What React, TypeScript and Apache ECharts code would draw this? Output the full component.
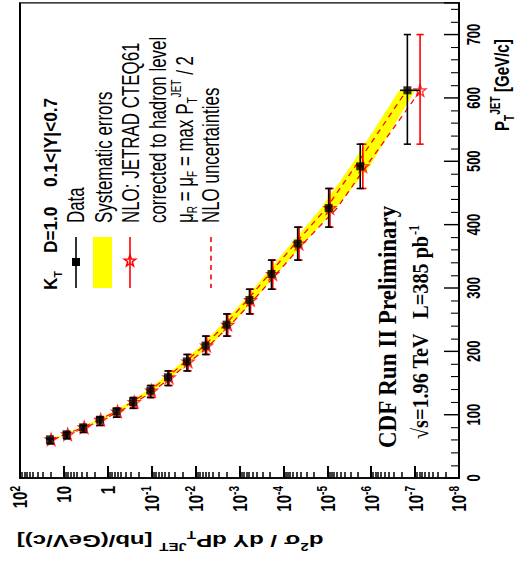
import React, { useEffect, useRef } from 'react';
import * as echarts from 'echarts';

// the reference picture is squeezed vertically; we draw in an unsqueezed frame and scale with CSS
const SQUEEZE = 0.72;
const W = 516;
const H = Math.round(568 / SQUEEZE);

// ---- data ----
const ptData = [61, 69, 80, 92, 105, 120, 138, 159, 184, 209, 242, 281, 322, 370, 426, 492, 612];
const binLo = [54, 62, 72, 83, 96, 110, 127, 146, 169, 195, 224, 259, 298, 344, 396, 457, 527];
const binHi = [62, 72, 83, 96, 110, 127, 146, 169, 195, 224, 259, 298, 344, 396, 457, 527, 700];
const sigmaData = [20.8, 8.7, 3.64, 1.52, 0.635, 0.266, 0.107, 0.0426, 0.0158, 5.93e-3, 1.97e-3, 5.93e-4, 1.87e-4, 4.73e-5, 9.3e-6, 1.78e-6, 1.5e-7];
const statLo = [20.7, 8.66, 3.62, 1.51, 0.63, 0.264, 0.106, 0.0422, 0.0156, 5.85e-3, 1.93e-3, 5.8e-4, 1.8e-4, 4.45e-5, 8.4e-6, 1.5e-6, 7.8e-8];
const statHi = [20.9, 8.74, 3.66, 1.53, 0.64, 0.268, 0.108, 0.043, 0.016, 6.0e-3, 2.01e-3, 6.06e-4, 1.94e-4, 5.0e-5, 1.02e-5, 2.06e-6, 2.2e-7];
const sysHi = [23.5, 9.9, 4.15, 1.75, 0.74, 0.315, 0.128, 0.052, 0.0196, 7.5e-3, 2.55e-3, 7.8e-4, 2.5e-4, 6.6e-5, 1.38e-5, 2.95e-6, 2.3e-7];
const sysLo = [18.3, 7.6, 3.18, 1.32, 0.545, 0.226, 0.09, 0.0355, 0.0129, 4.75e-3, 1.55e-3, 4.6e-4, 1.43e-4, 3.45e-5, 6.4e-6, 1.08e-6, 1.0e-7];
const sigmaNlo = [19.5, 8.2, 3.45, 1.45, 0.6, 0.25, 0.1, 0.04, 0.0148, 5.6e-3, 1.85e-3, 5.6e-4, 1.75e-4, 4.4e-5, 8.7e-6, 1.55e-6, 7.7e-8];
const nloUp = [21.2, 8.9, 3.75, 1.58, 0.655, 0.275, 0.111, 0.0445, 0.0167, 6.35e-3, 2.12e-3, 6.6e-4, 2.1e-4, 5.4e-5, 1.05e-5, 2.3e-6, 1.55e-7];
const nloDn = [18.0, 7.5, 3.15, 1.32, 0.545, 0.226, 0.09, 0.0358, 0.0131, 4.9e-3, 1.6e-3, 4.75e-4, 1.45e-4, 3.55e-5, 6.0e-6, 1.3e-6, 7.5e-8];

// ---- axes ----
const sigmaTicks = [1e-8, 1e-7, 1e-6, 1e-5, 1e-4, 1e-3, 1e-2, 1e-1, 1, 10, 100];
const sigmaTickLabels = ['10^-8', '10^-7', '10^-6', '10^-5', '10^-4', '10^-3', '10^-2', '10^-1', '1', '10', '10^2'];
const ptTickLabels = ['0', '100', '200', '300', '400', '500', '600', '700'];
const ptMinorTicks: number[] = [];
for (let v = 20; v < 750; v += 20) if (v % 100 !== 0) ptMinorTicks.push(v);
const sigmaMinorTicks: number[] = [];
for (let e = -8; e < 2; e++) for (let m = 2; m <= 9; m++) sigmaMinorTicks.push(m * Math.pow(10, e));

const FONT = 'Liberation Sans, Arial, Helvetica, sans-serif';
const SERIF = 'Liberation Serif, Times New Roman, serif';
const RED = '#ff0000';
const YELLOW = '#ffff00';
const STAR = 'path://M0,-10L2.35,-3.24L9.51,-3.09L3.8,1.24L5.88,8.09L0,4L-5.88,8.09L-3.8,1.24L-9.51,-3.09L-2.35,-3.24Z';

const sy = (y: number) => y / SQUEEZE;

function sigmaLabel(v: number) {
  const i = Math.round(Math.log10(v)) + 8;
  const t = sigmaTickLabels[i] ?? '';
  const p = t.split('^');
  return p.length === 2 ? `{b|${p[0]}}{s|${p[1]}}` : `{b|${t}}`;
}

function makeBars(color: string, withStat: boolean) {
  return (params: any, api: any) => {
    const s = api.value(0);
    const a = api.coord([s, api.value(1)]);
    const b = api.coord([s, api.value(2)]);
    const cap = 3.6;
    const st = { stroke: color, lineWidth: 1.6 };
    const sc = { stroke: color, lineWidth: 2.2 };
    const children: any[] = [
      { type: 'line', shape: { x1: a[0], y1: a[1], x2: b[0], y2: b[1] }, style: st },
      { type: 'line', shape: { x1: a[0] - cap, y1: a[1], x2: a[0] + cap, y2: a[1] }, style: sc },
      { type: 'line', shape: { x1: b[0] - cap, y1: b[1], x2: b[0] + cap, y2: b[1] }, style: sc },
    ];
    if (withStat) {
      const p = api.value(3);
      const c = api.coord([api.value(4), p]);
      const d = api.coord([api.value(5), p]);
      children.push({ type: 'line', shape: { x1: c[0], y1: c[1], x2: d[0], y2: d[1] }, style: sc });
    }
    return { type: 'group', children };
  };
}

function rotText(x: number, y: number, rich: string, font: any, richStyles: any = {}, extra: any = {}) {
  return {
    type: 'text',
    x,
    y,
    rotation: Math.PI / 2,
    z: 100,
    ...extra,
    style: {
      text: rich,
      fill: '#000',
      align: 'left',
      verticalAlign: 'middle',
      textAlign: 'left',
      textVerticalAlign: 'middle',
      ...font,
      rich: richStyles,
    },
  };
}

export default function App() {
  const ref = useRef<HTMLDivElement>(null);
  useEffect(() => {
    if (!ref.current) return;
    const chart = echarts.init(ref.current, null, { renderer: 'svg', width: W, height: H });

    const bandData = [[0]];
    const dataBars = ptData.map((p, i) => [sigmaData[i], binLo[i], binHi[i], p, statLo[i], statHi[i]]);
    const nloBars = ptData.map((p, i) => [sigmaNlo[i], binLo[i], binHi[i]]);

    const legendFont = { fontFamily: FONT, fontSize: 23.5, fontWeight: 'normal' };
    const subN = { fontFamily: FONT, fontSize: 14, verticalAlign: 'bottom', lineHeight: 30 };
    const supN = { fontFamily: FONT, fontSize: 14, verticalAlign: 'top', lineHeight: 30 };
    const nN = { fontFamily: FONT, fontSize: 23.5, lineHeight: 30 };
    const headFont = { fontFamily: FONT, fontSize: 18, fontWeight: 'bold' };
    const headScale = { scaleX: 1.33 };

    const option: any = {
      animation: false,
      backgroundColor: '#fff',
      grid: { left: 20, right: 57, top: 4, bottom: H - sy(478), show: true, borderColor: '#000', borderWidth: 2, containLabel: false },
      xAxis: [
        {
          type: 'log', min: 1e-8, max: 100, inverse: true, position: 'bottom',
          axisLine: { show: true, lineStyle: { color: '#000', width: 2 } },
          axisTick: { show: true, inside: true, length: sy(12), customValues: sigmaTicks, lineStyle: { color: '#000', width: 2 } },
          axisLabel: {
            show: true, rotate: 90, margin: 11, customValues: sigmaTicks,
            formatter: (v: number) => sigmaLabel(v),
            rich: {
              b: { fontFamily: FONT, fontSize: 21, fontWeight: 'bold', color: '#000', lineHeight: 24 },
              s: { fontFamily: FONT, fontSize: 14, fontWeight: 'bold', color: '#000', verticalAlign: 'top', lineHeight: 14 },
            },
          },
          splitLine: { show: false },
        },
        {
          type: 'log', min: 1e-8, max: 100, inverse: true, position: 'bottom',
          axisLine: { show: false },
          axisTick: { show: true, inside: true, length: sy(6), customValues: sigmaMinorTicks, lineStyle: { color: '#000', width: 1.5 } },
          axisLabel: { show: false },
          splitLine: { show: false },
        },
      ],
      yAxis: [
        {
          type: 'value', min: 0, max: 750, interval: 100, position: 'right',
          axisLine: { show: true, lineStyle: { color: '#000', width: 2 } },
          axisTick: { show: true, inside: true, length: 15, lineStyle: { color: '#000', width: 2 } },
          axisLabel: {
            show: true, rotate: 90, margin: 6, fontFamily: FONT, fontSize: 18, fontWeight: 'bold', color: '#000',
            formatter: (v: number) => (v % 100 === 0 && v <= 700 ? ptTickLabels[v / 100] : ''),
          },
          splitLine: { show: false },
        },
        {
          type: 'value', min: 0, max: 750, position: 'right',
          axisLine: { show: false },
          axisTick: { show: true, inside: true, length: 8, customValues: ptMinorTicks, lineStyle: { color: '#000', width: 1.5 } },
          axisLabel: { show: false },
          splitLine: { show: false },
        },
      ],
      series: [
        {
          type: 'custom', name: 'Systematic errors', z: 1, xAxisIndex: 0, yAxisIndex: 0,
          data: bandData,
          encode: { x: 0, y: 0 },
          renderItem: (params: any, api: any) => {
            const pts: number[][] = [];
            for (let i = 0; i < ptData.length; i++) pts.push(api.coord([sysHi[i], ptData[i]]));
            for (let i = ptData.length - 1; i >= 0; i--) pts.push(api.coord([sysLo[i], ptData[i]]));
            return { type: 'polygon', shape: { points: pts }, style: { fill: YELLOW, stroke: 'none' } };
          },
        },
        {
          type: 'line', name: 'NLO uncertainties up', z: 2, symbol: 'none', silent: true,
          data: ptData.map((p, i) => [nloUp[i], p]),
          lineStyle: { color: RED, width: 1.4, type: [7, 6] },
        },
        {
          type: 'line', name: 'NLO uncertainties down', z: 2, symbol: 'none', silent: true,
          data: ptData.map((p, i) => [nloDn[i], p]),
          lineStyle: { color: RED, width: 1.4, type: [7, 6] },
        },
        {
          type: 'custom', name: 'NLO bins', z: 3, data: nloBars, encode: { x: 0, y: [1, 2] },
          renderItem: makeBars(RED, false),
        },
        {
          type: 'scatter', name: 'NLO', z: 4,
          data: ptData.map((p, i) => [sigmaNlo[i], p]),
          symbol: STAR, symbolSize: [12, sy(12)],
          itemStyle: { color: 'rgba(255,255,255,0)', borderColor: RED, borderWidth: 1.5 },
        },
        {
          type: 'custom', name: 'Data errors', z: 5, data: dataBars, encode: { x: 0, y: [1, 2] },
          renderItem: makeBars('#000', true),
        },
        {
          type: 'scatter', name: 'Data', z: 6,
          data: ptData.map((p, i) => [sigmaData[i], p]),
          symbol: 'rect', symbolSize: [8, sy(8)],
          itemStyle: { color: '#000' },
        },
      ],
      graphic: [
        // header
        rotText(51, sy(290), '{h|K}{hs|T}', headFont, {
          h: { ...headFont, lineHeight: 24 },
          hs: { fontFamily: FONT, fontSize: 11, fontWeight: 'bold', verticalAlign: 'bottom', lineHeight: 24 },
        }, headScale),
        rotText(51, sy(253), 'D=1.0', headFont, {}, headScale),
        rotText(51, sy(187), '0.1<|Y|<0.7', headFont, {}, headScale),
        // Data entry
        { type: 'line', shape: { x1: 76, y1: sy(237), x2: 76, y2: sy(288) }, style: { stroke: '#000', lineWidth: 1.6 }, z: 100 },
        { type: 'rect', shape: { x: 72, y: sy(262) - sy(4), width: 8, height: sy(8) }, style: { fill: '#000' }, z: 100 },
        rotText(75, sy(223), 'Data', legendFont),
        // Systematic errors
        { type: 'rect', shape: { x: 93, y: sy(237), width: 19, height: sy(288) - sy(237) }, style: { fill: YELLOW }, z: 100 },
        rotText(103, sy(223), 'Systematic errors', legendFont),
        // NLO
        { type: 'line', shape: { x1: 130, y1: sy(237), x2: 130, y2: sy(288) }, style: { stroke: RED, lineWidth: 1.6 }, z: 100 },
        rotText(130, sy(223), 'NLO: JETRAD CTEQ61', legendFont),
        rotText(157, sy(223), 'corrected to hadron level', legendFont),
        rotText(184, sy(223), '{n|μ}{b|R}{n| = μ}{b|F}{n| = max P}{b|T}{t|JET}{n| / 2}', legendFont, { n: nN, b: subN, t: supN }),
        // NLO uncertainties
        { type: 'line', shape: { x1: 211, y1: sy(237), x2: 211, y2: sy(288) }, style: { stroke: RED, lineWidth: 1.6, lineDash: [7, 6] }, z: 100 },
        rotText(210, sy(223), 'NLO uncertainties', legendFont),
        // CDF label
        rotText(388, sy(448), 'CDF Run II Preliminary', { fontFamily: SERIF, fontSize: 25, fontWeight: 'bold' }, {}, { scaleX: 1.28 }),
        rotText(421, sy(439), '{c|√s=1.96 TeV   L=385 pb}{e|-1}', { fontFamily: SERIF, fontSize: 23, fontWeight: 'bold' }, {
          c: { fontFamily: SERIF, fontSize: 23, fontWeight: 'bold', lineHeight: 28 },
          e: { fontFamily: SERIF, fontSize: 14, fontWeight: 'bold', verticalAlign: 'top', lineHeight: 28 },
        }, { scaleX: 1.22 }),
        // axis titles
        {
          type: 'text', x: 170, y: sy(541), rotation: Math.PI, z: 100,
          style: {
            text: '{a|d}{p|2}{a|σ / dY dP}{q|T}{p|JET}{a| [nb/(GeV/c)]}',
            align: 'center', verticalAlign: 'middle', textAlign: 'center', textVerticalAlign: 'middle',
            fill: '#000',
            rich: {
              a: { fontFamily: FONT, fontSize: 24, fontWeight: 'bold', lineHeight: 32 },
              p: { fontFamily: FONT, fontSize: 15, fontWeight: 'bold', verticalAlign: 'top', lineHeight: 32 },
              q: { fontFamily: FONT, fontSize: 15, fontWeight: 'bold', verticalAlign: 'bottom', lineHeight: 32 },
            },
          },
        },
        rotText(502, sy(131), '{a|P}{q|T}{p|JET}{a| [GeV/c]}', { fontFamily: FONT, fontSize: 21, fontWeight: 'bold' }, {
          a: { fontFamily: FONT, fontSize: 21, fontWeight: 'bold', lineHeight: 28 },
          p: { fontFamily: FONT, fontSize: 14, fontWeight: 'bold', verticalAlign: 'top', lineHeight: 28 },
          q: { fontFamily: FONT, fontSize: 14, fontWeight: 'bold', verticalAlign: 'bottom', lineHeight: 28 },
        }),
      ],
    };
    // legend star symbol
    option.graphic.push({
      type: 'polygon', z: 101,
      shape: {
        points: [[0, -10], [2.35, -3.24], [9.51, -3.09], [3.8, 1.24], [5.88, 8.09], [0, 4], [-5.88, 8.09], [-3.8, 1.24], [-9.51, -3.09], [-2.35, -3.24]],
      },
      x: 130, y: sy(261), scaleX: 0.6, scaleY: sy(0.6),
      style: { fill: 'none', stroke: RED, lineWidth: 2.5 },
    });

    chart.setOption(option);
    return () => chart.dispose();
  }, []);

  return (
    <div style={{ position: 'absolute', left: 0, top: 0, width: W, height: 568, overflow: 'hidden', background: '#fff' }}>
      <div ref={ref} style={{ width: W, height: H, transform: `scaleY(${SQUEEZE})`, transformOrigin: '0 0' }} />
    </div>
  );
}
